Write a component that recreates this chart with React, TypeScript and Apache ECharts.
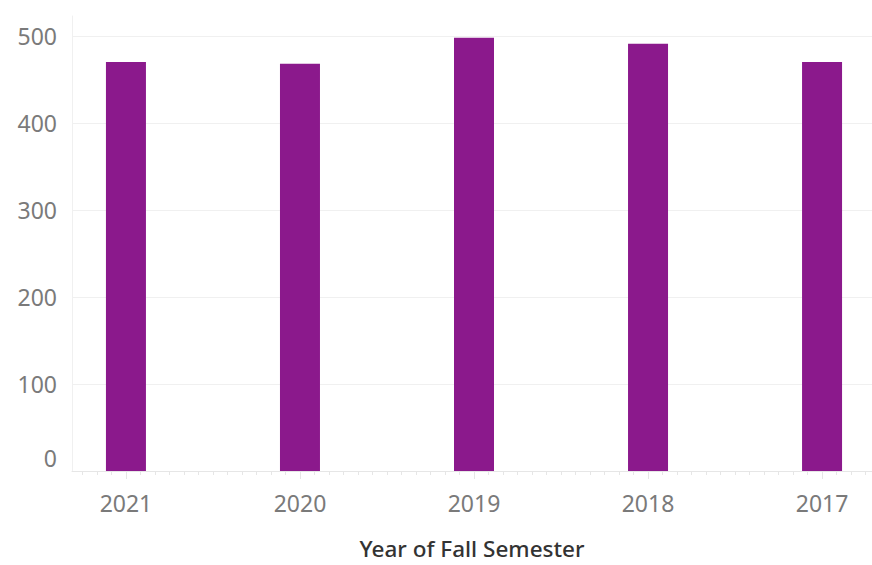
import React, { useEffect, useRef } from "react";
import * as echarts from "echarts";

const years = [2021, 2020, 2019, 2018, 2017];
const enrollments = [470, 468, 498, 491, 470];
const yTickValues = [0, 100, 200, 300, 400, 500];
const axisTitle = "Year of Fall Semester";

const X_MIN = 2016.713;
const X_MAX = 2021.31;

export default function App() {
  const ref = useRef<HTMLDivElement>(null);
  useEffect(() => {
    const chart = echarts.init(ref.current!, null, { renderer: "svg" });
    const monthTicks: number[] = [];
    for (let i = Math.ceil(X_MIN * 12); i <= Math.floor(X_MAX * 12); i++) {
      if (i % 12 !== 0) monthTicks.push(i / 12);
    }
    const font = "'Noto Sans', sans-serif";
    const labelColor = "#7a7a7a";
    chart.setOption({
      animation: false,
      grid: { left: 72, right: 0, top: 16, bottom: 94, containLabel: false },
      xAxis: [
        {
          type: "value",
          inverse: true,
          min: X_MIN,
          max: X_MAX,
          position: "bottom",
          name: axisTitle,
          nameLocation: "middle",
          nameGap: 66,
          nameTextStyle: { fontFamily: font, fontSize: 22.5, color: "#333333", fontWeight: 500 },
          axisLine: { show: true, lineStyle: { color: "#e6e6e6", width: 1 } },
          axisTick: { show: true, customValues: years, length: 8, lineStyle: { color: "#e6e6e6" } },
          axisLabel: {
            customValues: years,
            formatter: (v: number) => String(Math.round(v)),
            fontFamily: font,
            fontSize: 23,
            color: labelColor,
            margin: 20,
          },
          splitLine: { show: false },
        },
        {
          type: "value",
          inverse: true,
          min: X_MIN,
          max: X_MAX,
          position: "bottom",
          axisLine: { show: false },
          axisTick: { show: true, customValues: monthTicks, length: 4, lineStyle: { color: "#e6e6e6" } },
          axisLabel: { show: false },
          splitLine: { show: false },
        },
      ],
      yAxis: {
        type: "value",
        min: 0,
        max: 523,
        interval: 100,
        axisLine: { show: true, lineStyle: { color: "#f0f0f0" } },
        axisTick: { show: false },
        splitLine: {
          show: true,
          lineStyle: {
            color: [...yTickValues.map(() => "#f0f0f0"), "rgba(0,0,0,0)"],
            width: 1,
          },
        },
        axisLabel: {
          showMaxLabel: false,
          margin: 15,
          fontFamily: font,
          fontSize: 23,
          color: labelColor,
          formatter: (v: number) =>
            v === 0 ? "{z|0}" : yTickValues.includes(v) ? String(v) : "",
          rich: {
            z: { fontFamily: font, fontSize: 23, color: labelColor, padding: [0, 0, 26, 0] },
          },
        },
      },
      series: [
        {
          type: "bar",
          xAxisIndex: 0,
          yAxisIndex: 0,
          barWidth: 40,
          itemStyle: { color: "#8b198c" },
          data: years.map((y, i) => [y, enrollments[i]]),
        },
      ],
    });
    return () => chart.dispose();
  }, []);
  return (
    <div
      ref={ref}
      style={{ position: "absolute", left: 0, top: 0, width: 872, height: 565 }}
    />
  );
}
